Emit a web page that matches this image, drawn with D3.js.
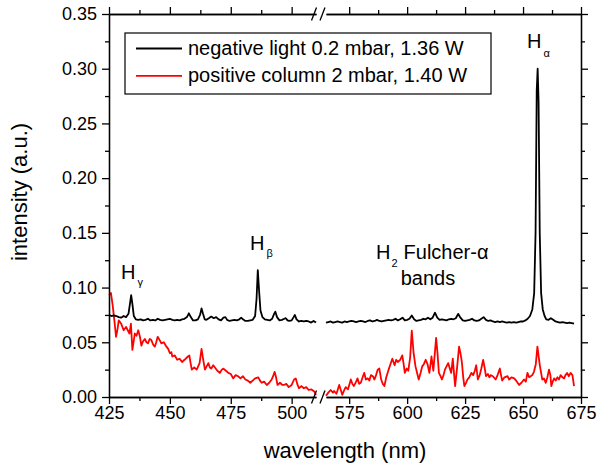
<!DOCTYPE html>
<html>
<head>
<meta charset="utf-8">
<script src="https://cdn.jsdelivr.net/npm/d3@7"></script>
<style>
  body { margin: 0; background: #fff; }
  svg { font-family: Arial, "Liberation Sans", sans-serif; }
</style>
</head>
<body>
<svg id="chart" width="598" height="472"></svg>
<script>
// wavelength (nm), intensity (a.u.)
const negLeft = [
  [425,.075],[426,.074],[427,.0745],[428,.074],[429,.073],[430,.0725],[431,.074],[432,.073],[433,.076],
  [433.6,.085],[434.1,.093],[434.6,.085],[435.2,.074],[436,.071],[437,.0705],[438,.071],[439,.070],
  [440,.0705],[441,.0715],[442,.070],[443,.0705],[444,.070],[445,.0715],[446,.0705],[447,.070],
  [448,.0705],[449,.071],[450,.0715],[451,.0705],[452,.070],[453,.0705],[454,.070],[455,.071],
  [456,.0715],[457,.073],[457.8,.0765],[458.6,.073],[459.5,.070],[460.5,.070],[461.5,.071],[462.4,.075],
  [463,.081],[463.6,.076],[464.3,.071],[465,.0705],[466,.072],[467,.0735],[468,.072],[469,.073],
  [470,.071],[471,.070],[472,.0725],[472.8,.073],[473.5,.0705],[474.5,.0695],[475.5,.070],[476.5,.0705],
  [477.5,.070],[478.5,.071],[479.3,.0725],[480,.071],[481,.0695],[482,.0695],[483,.070],[484,.0705],
  [485,.074],[485.6,.090],[486.1,.116],[486.6,.098],[487.2,.079],[488,.073],[489,.071],[490,.0705],
  [491,.070],[492,.0715],[492.8,.076],[493.3,.078],[494,.073],[495,.070],[496,.0705],[497,.0715],
  [497.6,.072],[498.3,.070],[499,.0695],[500,.070],[500.8,.073],[501.3,.075],[502,.071],[503,.069],
  [504,.0695],[505,.069],[506,.0695],[507,.069],[508,.068],[509,.0695],[510,.068]
];
const negRight = [
  [565,.068],[566,.0685],[567,.069],[568,.068],[569,.0685],[570,.069],[571,.0685],[572,.068],[573,.069],
  [574,.0685],[575,.069],[576,.0695],[577,.069],[578,.0685],[579,.069],[580,.0695],[581,.069],[582,.0685],
  [583,.0695],[584,.070],[585,.069],[586,.0695],[587,.0705],[588,.0695],[589,.069],[590,.0695],[591,.070],
  [592,.0705],[593,.070],[594,.0705],[595,.0715],[596,.070],[597,.071],[598,.0725],[599,.070],[600,.0705],
  [601,.0715],[602,.0745],[603,.071],[604,.0695],[605,.070],[606,.0705],[607,.0715],[608,.071],[609,.0725],
  [610,.071],[611,.0725],[612,.077],[613,.0725],[614,.0705],[615,.071],[616,.0705],[617,.070],[618,.071],
  [619,.0715],[620,.071],[621,.072],[622,.076],[623,.0725],[624,.070],[625,.0695],[626,.070],[627,.0705],
  [628,.0715],[629,.070],[630,.0695],[631,.070],[632,.0715],[633,.073],[634,.0705],[635,.0695],[636,.070],
  [637,.069],[638,.0685],[639,.069],[640,.0685],[641,.069],[642,.0685],[643,.068],[644,.0685],[645,.068],
  [646,.0685],[647,.068],[648,.0685],[649,.069],[650,.069],[651,.070],[652,.0715],[653,.074],[654,.080],
  [654.8,.095],[655.4,.15],[655.9,.28],[656.3,.30],[656.7,.27],[657.2,.15],[657.8,.095],[658.5,.080],
  [659.3,.074],[660,.071],[661,.0705],[662,.072],[663,.0705],[664,.069],[665,.0685],[666,.068],
  [667,.0685],[668,.068],[669,.0675],[670,.068],[671,.0675],[672,.067]
];
const posLeft = [
  [425,.093],[425.8,.095],[426.5,.084],[427.2,.070],[427.9,.055],[428.5,.062],[429,.070],[430,.067],
  [431,.061],[432,.064],[433.4,.058],[434,.067],[434.6,.043],[435.6,.058],[436.3,.056],[437,.061],
  [437.7,.055],[438.3,.047],[439,.051],[439.7,.053],[440.4,.050],[441,.049],[441.7,.053],[442.4,.052],
  [443.1,.048],[443.8,.046],[444.4,.050],[445,.055],[445.8,.052],[446.5,.049],[447.5,.050],[448.6,.046],
  [449.3,.044],[450,.040],[450.6,.041],[451,.037],[452,.038],[453,.034],[454,.035],[455,.032],[456,.034],
  [457.4,.037],[458,.038],[458.5,.031],[459,.025],[460,.027],[461,.025],[462.2,.031],[463,.044],
  [463.7,.034],[464.4,.025],[465.1,.028],[465.8,.031],[466.4,.027],[467,.026],[467.8,.029],[468.5,.027],
  [469.5,.024],[470.5,.022],[471.3,.025],[472,.026],[473,.024],[474,.022],[475,.021],[476,.017],
  [477,.020],[478,.019],[479,.017],[480,.019],[481,.016],[482,.015],[483,.013],[484,.015],[485,.017],
  [486.3,.018],[487,.015],[487.7,.013],[488.7,.014],[489.8,.011],[490.8,.013],[491.8,.016],[492.4,.019],
  [493,.023],[493.6,.018],[494.2,.011],[495.2,.013],[496.2,.011],[496.8,.011],[497.8,.012],[498.8,.009],
  [500,.011],[501,.016],[501.7,.017],[502.3,.012],[503,.008],[504,.010],[505,.008],[506,.009],
  [507,.0064],[508,.007],[509.3,.005],[510,.002]
];
const posRight = [
  [565,.0011],[566,.004],[567,.0064],[568,.004],[568.5,.0055],[569.5,.003],[570.7,.011],[571.3,.007],
  [572,.002],[572.8,.006],[573.5,.009],[574.5,.007],[575.7,.016],[576.4,.012],[577,.010],[578,.014],
  [578.6,.017],[579.3,.012],[580,.013],[580.8,.018],[581.5,.022],[582.2,.016],[583,.017],[583.7,.015],
  [584.4,.020],[585.2,.019],[585.9,.016],[586.6,.020],[587.3,.025],[588,.026],[588.8,.016],[589.5,.012],
  [590.2,.010],[591,.018],[592,.025],[592.8,.030],[593.6,.035],[594.6,.029],[595.3,.034],[596,.032],
  [597,.034],[597.9,.038],[598.5,.030],[599,.022],[599.8,.026],[600.5,.024],[601.3,.036],[602,.0606],
  [602.8,.040],[603.6,.028],[604.3,.022],[605,.016],[605.8,.022],[606.5,.028],[607.2,.030],[608,.034],
  [608.8,.030],[609.6,.022],[610.5,.037],[611.3,.024],[612.5,.054],[613.1,.040],[613.7,.022],[614.4,.019],
  [615,.016],[615.7,.020],[616.3,.025],[617,.028],[617.7,.031],[618.4,.026],[619,.022],[619.7,.035],
  [620.2,.022],[620.7,.010],[621.5,.026],[622.4,.046],[623,.040],[623.6,.032],[624.2,.018],[624.7,.010],
  [625.4,.013],[626,.016],[626.8,.018],[627.7,.022],[628.5,.020],[629.2,.024],[629.8,.029],[630.5,.016],
  [631.3,.020],[632,.026],[632.8,.034],[633.5,.026],[634,.019],[634.8,.021],[635.5,.018],[636,.020],
  [637,.019],[638.2,.016],[639,.020],[640,.026],[640.5,.020],[641,.015],[642,.018],[643.3,.019],
  [644,.016],[645,.018],[646.2,.017],[647,.015],[648.3,.011],[649.3,.013],[650.4,.016],[651.2,.014],
  [651.9,.022],[652.6,.018],[653.3,.019],[654,.020],[654.7,.023],[655.5,.030],[656.2,.046],[656.8,.036],
  [657.3,.028],[658.3,.016],[659,.017],[659.8,.013],[660.5,.018],[661.2,.025],[661.8,.020],[662.2,.010],
  [662.8,.014],[663.4,.017],[664.1,.015],[664.8,.018],[665.5,.016],[666.2,.020],[667,.018],[667.7,.017],
  [668.3,.020],[669,.022],[669.7,.019],[670.5,.022],[671.3,.020],[672,.010]
];

const yMajor = [0, 0.05, 0.10, 0.15, 0.20, 0.25, 0.30, 0.35];
const yMinor = [0.025, 0.075, 0.125, 0.175, 0.225, 0.275, 0.325];
const xLeftMajor = [425, 450, 475, 500];
const xLeftMinor = [437.5, 462.5, 487.5];
const xRightMajor = [575, 600, 625, 650, 675];
const xRightMinor = [587.5, 612.5, 637.5, 662.5];
const legendLabels = ["negative light 0.2 mbar, 1.36 W", "positive column 2 mbar, 1.40 W"];
const seriesColors = ["#000000", "#ff0000"];

const plotTop = 14, plotBottom = 397, plotLeft = 109, plotRight = 581;

const xL = d3.scaleLinear().domain([425, 510]).range([plotLeft, 316]);
const xR = d3.scaleLinear().domain([565, 675]).range([326, plotRight]);
const y = d3.scaleLinear().domain([0, 0.35]).range([plotBottom, plotTop]);

const svg = d3.select("#chart");

// lines
function drawLine(data, xs, color) {
  svg.append("path")
    .datum(data)
    .attr("fill", "none")
    .attr("stroke", color)
    .attr("stroke-width", 1.8)
    .attr("stroke-linejoin", "round")
    .attr("d", d3.line().x(d => xs(d[0])).y(d => y(d[1])));
}
drawLine(posLeft, xL, seriesColors[1]);
drawLine(posRight, xR, seriesColors[1]);
drawLine(negLeft, xL, seriesColors[0]);
drawLine(negRight, xR, seriesColors[0]);

// axes
const fmt = d3.format(".2f");
function axisGroup(axis, tx, ty) {
  const g = svg.append("g").attr("transform", `translate(${tx},${ty})`).call(axis);
  g.selectAll("line, path").attr("stroke", "#000").attr("stroke-width", 1.3);
  g.selectAll("text").attr("fill", "#000").attr("font-size", 18).attr("font-family", "Arial, 'Liberation Sans', sans-serif");
  return g;
}
// bottom
axisGroup(d3.axisBottom(xL).tickValues(xLeftMajor).tickSize(7).tickSizeOuter(0).tickPadding(2), 0, plotBottom);
axisGroup(d3.axisBottom(xL).tickValues(xLeftMinor).tickSize(4).tickSizeOuter(0).tickFormat(""), 0, plotBottom);
axisGroup(d3.axisBottom(xR).tickValues(xRightMajor).tickSize(7).tickSizeOuter(0).tickPadding(2), 0, plotBottom);
axisGroup(d3.axisBottom(xR).tickValues(xRightMinor).tickSize(4).tickSizeOuter(0).tickFormat(""), 0, plotBottom);
// top
axisGroup(d3.axisTop(xL).tickValues(xLeftMajor).tickSize(7).tickSizeOuter(0).tickFormat(""), 0, plotTop);
axisGroup(d3.axisTop(xL).tickValues(xLeftMinor).tickSize(4).tickSizeOuter(0).tickFormat(""), 0, plotTop);
axisGroup(d3.axisTop(xR).tickValues(xRightMajor).tickSize(7).tickSizeOuter(0).tickFormat(""), 0, plotTop);
axisGroup(d3.axisTop(xR).tickValues(xRightMinor).tickSize(4).tickSizeOuter(0).tickFormat(""), 0, plotTop);
// left / right
axisGroup(d3.axisLeft(y).tickValues(yMajor).tickSize(7).tickSizeOuter(0).tickPadding(5).tickFormat(fmt), plotLeft, 0);
axisGroup(d3.axisLeft(y).tickValues(yMinor).tickSize(4).tickSizeOuter(0).tickFormat(""), plotLeft, 0);
axisGroup(d3.axisRight(y).tickValues(yMajor).tickSize(7).tickSizeOuter(0).tickFormat(""), plotRight, 0);
axisGroup(d3.axisRight(y).tickValues(yMinor).tickSize(4).tickSizeOuter(0).tickFormat(""), plotRight, 0);

// break marks
[plotTop, plotBottom].forEach(yy => {
  [314, 322.5].forEach(xx => {
    svg.append("line")
      .attr("x1", xx - 2.5).attr("y1", yy + 6.5)
      .attr("x2", xx + 2.5).attr("y2", yy - 6.5)
      .attr("stroke", "#000").attr("stroke-width", 1.3);
  });
});

// axis titles
svg.append("text")
  .attr("x", (plotLeft + plotRight) / 2).attr("y", 458)
  .attr("text-anchor", "middle").attr("font-size", 22)
  .text("wavelength (nm)");
svg.append("text")
  .attr("transform", "translate(27,192) rotate(-90)")
  .attr("text-anchor", "middle").attr("font-size", 22)
  .text("intensity (a.u.)");

// legend
const leg = svg.append("g");
leg.append("rect").attr("x", 125).attr("y", 33).attr("width", 366).attr("height", 61)
  .attr("fill", "#fff").attr("stroke", "#000").attr("stroke-width", 1.2);
legendLabels.forEach((lab, i) => {
  const ly = 48.5 + i * 27.3;
  leg.append("line").attr("x1", 136).attr("x2", 182).attr("y1", ly).attr("y2", ly)
    .attr("stroke", seriesColors[i]).attr("stroke-width", 1.8);
  leg.append("text").attr("x", 188).attr("y", ly + 6.5).attr("font-size", 20).text(lab);
});

// peak annotations
function peakLabel(x0, yb, sub, subDy) {
  const t = svg.append("text").attr("x", x0).attr("y", yb).attr("font-size", 20);
  t.append("tspan").text("H");
  t.append("tspan").attr("dx", 2).attr("dy", subDy).attr("font-size", 11).text(sub);
}
peakLabel(121, 279, "γ", 7);
peakLabel(250, 250, "β", 7);
peakLabel(527, 48, "α", 9);

const fl = svg.append("text").attr("x", 376).attr("y", 259).attr("font-size", 20);
fl.append("tspan").text("H");
fl.append("tspan").attr("dx", 1).attr("dy", 8).attr("font-size", 11).text("2");
fl.append("tspan").attr("dx", 6).attr("dy", -8).text("Fulcher-α");
svg.append("text").attr("x", 428).attr("y", 285).attr("text-anchor", "middle")
  .attr("font-size", 20).text("bands");
</script>
</body>
</html>
